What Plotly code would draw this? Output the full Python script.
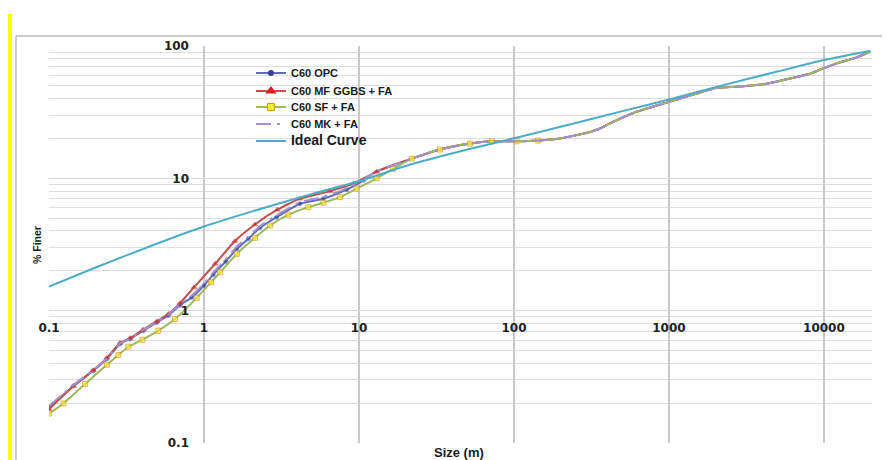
import plotly.graph_objects as go

# ---------------- data ----------------
opc_size = [0.1, 0.144, 0.193, 0.236, 0.287, 0.333, 0.406, 0.495, 0.589, 0.70, 0.834, 1.0, 1.148,
            1.38, 1.63, 1.93, 2.30, 2.94, 4.16, 5.89, 8.34, 10.7, 12.7, 16.6, 21.9, 33.3, 52, 72,
            104, 143, 198, 309, 359, 416, 589, 1000, 1435, 2032, 2735, 4060, 5740, 7920, 9890,
            12070, 16260, 19800]
opc_finer = [0.185, 0.27, 0.351, 0.431, 0.56, 0.61, 0.706, 0.815, 0.92, 1.10, 1.26, 1.55, 1.87,
             2.35, 2.93, 3.49, 4.23, 5.09, 6.43, 7.02, 8.21, 9.66, 11.2, 12.5, 14.1, 16.5, 18.3, 19.05,
             19.05, 19.3, 20.0, 22.4, 23.8, 26.0, 31.2, 37.8, 43.0, 48.3, 49.2, 51.3, 56.0, 61.1, 67.7,
             73.9, 82.1, 90.5]

mf_size = [0.1, 0.144, 0.193, 0.236, 0.287, 0.333, 0.406, 0.495, 0.589, 0.70, 0.862, 1.18, 1.58,
           2.13, 2.97, 4.16, 6.50, 9.19, 13.0, 16.6, 21.9, 33.3, 52, 72, 104, 143, 198, 309, 359,
           416, 589, 1000, 1435, 2032, 2735, 4060, 5740, 7920, 9890, 12070, 16260, 19800]
mf_finer = [0.18, 0.27, 0.355, 0.44, 0.57, 0.62, 0.72, 0.83, 0.944, 1.14, 1.50, 2.26, 3.35,
            4.48, 5.79, 7.02, 8.01, 9.12, 11.2, 12.6, 14.1, 16.5, 18.3, 19.05, 19.05, 19.3, 20.0,
            22.4, 23.8, 26.0, 31.2, 37.8, 43.0, 48.3, 49.2, 51.3, 56.0, 61.1, 67.7, 73.9, 82.1, 90.5]

sf_size = [0.1, 0.124, 0.171, 0.236, 0.28, 0.325, 0.40, 0.507, 0.65, 0.897, 1.11, 1.27, 1.63,
           2.13, 2.67, 3.50, 4.71, 5.89, 7.54, 9.66, 13.0, 16.6, 21.9, 33.3, 52, 72, 104, 143,
           198, 309, 359, 416, 589, 1000, 1435, 2032, 2735, 4060, 5740, 7920, 9890, 12070, 16260,
           19800]
sf_finer = [0.167, 0.199, 0.279, 0.39, 0.462, 0.534, 0.603, 0.706, 0.865, 1.25, 1.64, 1.95, 2.69,
            3.55, 4.40, 5.31, 6.06, 6.54, 7.21, 8.36, 10.0, 11.8, 14.1, 16.5, 18.3, 19.05, 19.05,
            19.3, 20.0, 22.4, 23.8, 26.0, 31.2, 37.8, 43.0, 48.3, 49.2, 51.3, 56.0, 61.1, 67.7, 73.9,
            82.1, 90.5]

mk_size = [0.1, 0.144, 0.193, 0.236, 0.287, 0.333, 0.406, 0.495, 0.589, 0.70, 0.834, 1.0, 1.148,
           1.38, 1.63, 1.93, 2.30, 2.94, 4.16, 5.89, 8.34, 10.7, 12.7, 16.6, 21.9, 33.3, 52, 72,
           104, 143, 198, 309, 359, 416, 589, 1000, 1435, 2032, 2735, 4060, 5740, 7920, 9890,
           12070, 16260, 19800]
mk_finer = [0.19, 0.275, 0.355, 0.435, 0.565, 0.615, 0.715, 0.82, 0.93, 1.12, 1.30, 1.60, 1.95,
            2.45, 3.05, 3.62, 4.35, 5.25, 6.6, 7.25, 8.4, 9.75, 11.2, 12.5, 14.1, 16.5, 18.3, 19.05,
            19.05, 19.3, 20.0, 22.4, 23.8, 26.0, 31.2, 37.8, 43.0, 48.3, 49.2, 51.3, 56.0, 61.1, 67.7,
            73.9, 82.1, 90.5]

ideal_size = [0.1, 0.2, 0.5, 1, 2, 5, 10, 20, 50, 100, 200, 500, 1000, 2000, 5000, 10000, 20000]
ideal_finer = [1.52, 2.12, 3.22, 4.33, 5.58, 7.63, 9.5, 12.4, 16.5, 20.1, 24.5, 32.2, 39.4, 48.9,
               64.1, 78.3, 92.0]

x_tick_vals = [0.1, 1, 10, 100, 1000, 10000]
x_tick_text = ["0.1", "1", "10", "100", "1000", "10000"]
y_tick_vals = [0.1, 1, 10, 100]
y_tick_text = ["0.1", "1", "10", "100"]
y_minor_vals = [m * d for d in (0.1, 1, 10) for m in range(2, 10)]

series_names = ["C60 OPC", "C60 MF GGBS + FA", "C60 SF + FA", "C60 MK + FA",
                "<span style='font-size:14px'>Ideal Curve</span>"]

# ---------------- styles ----------------
opc_line = dict(color="#5B6CC0", width=2, shape="spline", smoothing=0.5)
mf_line = dict(color="#C0504D", width=2, shape="spline", smoothing=0.5)
sf_line = dict(color="#9BBB59", width=2, shape="spline", smoothing=0.5)
mk_line = dict(color="#A48FCB", width=2, dash="longdashdot", shape="spline", smoothing=0.5)
ideal_line = dict(color="#4BACC6", width=2, shape="spline", smoothing=0.6)


def marker_sizes(sizes, size, cutoff):
    # markers are only visible where the curves separate (hidden elsewhere in the reference)
    return [size if s <= cutoff else 0 for s in sizes]


fig = go.Figure()
fig.add_trace(go.Scatter(x=opc_size, y=opc_finer, mode="lines+markers", showlegend=False,
                         line=opc_line,
                         marker=dict(symbol="circle", size=marker_sizes(opc_size, 4, 12),
                                     color="#3A3D99")))
fig.add_trace(go.Scatter(x=mf_size, y=mf_finer, mode="lines+markers", showlegend=False,
                         line=mf_line,
                         marker=dict(symbol="triangle-up", size=marker_sizes(mf_size, 5, 15),
                                     color="#E01E1E")))
fig.add_trace(go.Scatter(x=sf_size, y=sf_finer, mode="lines+markers", showlegend=False,
                         line=sf_line,
                         marker=dict(symbol="square", size=marker_sizes(sf_size, 5, 150),
                                     color="#FFE92E", line=dict(color="#D39A2C", width=1))))
fig.add_trace(go.Scatter(x=mk_size, y=mk_finer, mode="lines", showlegend=False, line=mk_line))
fig.add_trace(go.Scatter(x=ideal_size, y=ideal_finer, mode="lines", showlegend=False,
                         line=ideal_line))

# legend entries (one legend per entry to match the reference spacing)
legend_markers = [
    dict(symbol="circle", size=6, color="#3A3D99"),
    dict(symbol="triangle-up", size=10, color="#E01E1E"),
    dict(symbol="square", size=7, color="#FFE92E", line=dict(color="#D39A2C", width=1)),
    None,
    None,
]
legend_lines = [opc_line, mf_line, sf_line, mk_line, ideal_line]
legend_ids = ["legend", "legend2", "legend3", "legend4", "legend5"]
for name, ln, mk, lid in zip(series_names, legend_lines, legend_markers, legend_ids):
    kw = dict(x=[None], y=[None], name=name, legend=lid, showlegend=True,
              line={k: v for k, v in ln.items() if k not in ("shape", "smoothing")})
    if mk:
        kw.update(mode="lines+markers", marker=mk)
    else:
        kw.update(mode="lines")
    fig.add_trace(go.Scatter(**kw))

tick_font = dict(family="DejaVu Sans", size=12, color="#222222", weight="bold")
legend_font = dict(family="Liberation Sans", size=11, color="#1A1A1A", weight="bold")
legend_x = 0.2454
legend_ys = [0.932, 0.8866, 0.8463, 0.8035, 0.7607]


def legend_box(y):
    return dict(x=legend_x, y=y, xanchor="left", yanchor="middle", bgcolor="rgba(0,0,0,0)",
                font=legend_font, itemwidth=30)


fig.update_layout(
    width=882, height=452,
    margin=dict(l=41, r=18, t=38, b=17, autoexpand=False),
    paper_bgcolor="white", plot_bgcolor="white",
    showlegend=True,
    legend=legend_box(legend_ys[0]),
    legend2=legend_box(legend_ys[1]),
    legend3=legend_box(legend_ys[2]),
    legend4=legend_box(legend_ys[3]),
    legend5=legend_box(legend_ys[4]),
    xaxis=dict(type="log", range=[-1, 4.31], anchor="free", position=1/3, automargin=False,
               tickvals=x_tick_vals, ticktext=x_tick_text, tickfont=tick_font, ticks="",
               showgrid=True, gridcolor="#C9C9C9", gridwidth=1.5, showline=False, zeroline=False,
               ticklabelstandoff=8),
    yaxis=dict(type="log", range=[-1, 2], anchor="free", position=1/5.31, automargin=False,
               tickvals=y_tick_vals, ticktext=y_tick_text, tickfont=tick_font, ticks="",
               showgrid=True, gridcolor="#D9D9D9", gridwidth=1.2, showline=False, zeroline=False,
               ticklabelstandoff=15,
               minor=dict(tickvals=y_minor_vals, showgrid=True, gridcolor="#DEDEDE", gridwidth=1.2)),
    annotations=[
        dict(text="% Finer", x=-0.0146, y=0.4987, xref="paper", yref="paper", textangle=-90,
             showarrow=False, xanchor="center", yanchor="middle",
             font=dict(family="Liberation Sans", size=10.5, color="#1A1A1A", weight="bold")),
        dict(text="Size (m)", x=0.498, y=-0.0227, xref="paper", yref="paper", showarrow=False,
             xanchor="center", yanchor="middle",
             font=dict(family="Liberation Sans", size=13, color="#1A1A1A", weight="bold")),
    ],
    shapes=[
        dict(type="rect", xref="paper", yref="paper", x0=-0.0498, x1=-0.045, y0=-0.06, y1=1.0806,
             fillcolor="#FFFF00", line=dict(width=0), layer="above"),
        dict(type="line", xref="paper", yref="paper", x0=-0.0401, x1=-0.0401, y0=-0.06, y1=1.0252,
             line=dict(color="#BDBDBD", width=1.5)),
        dict(type="line", xref="paper", yref="paper", x0=-0.0401, x1=1.03, y0=1.0252, y1=1.0252,
             line=dict(color="#BDBDBD", width=1.5)),
    ],
)

fig.write_html("out.html")
